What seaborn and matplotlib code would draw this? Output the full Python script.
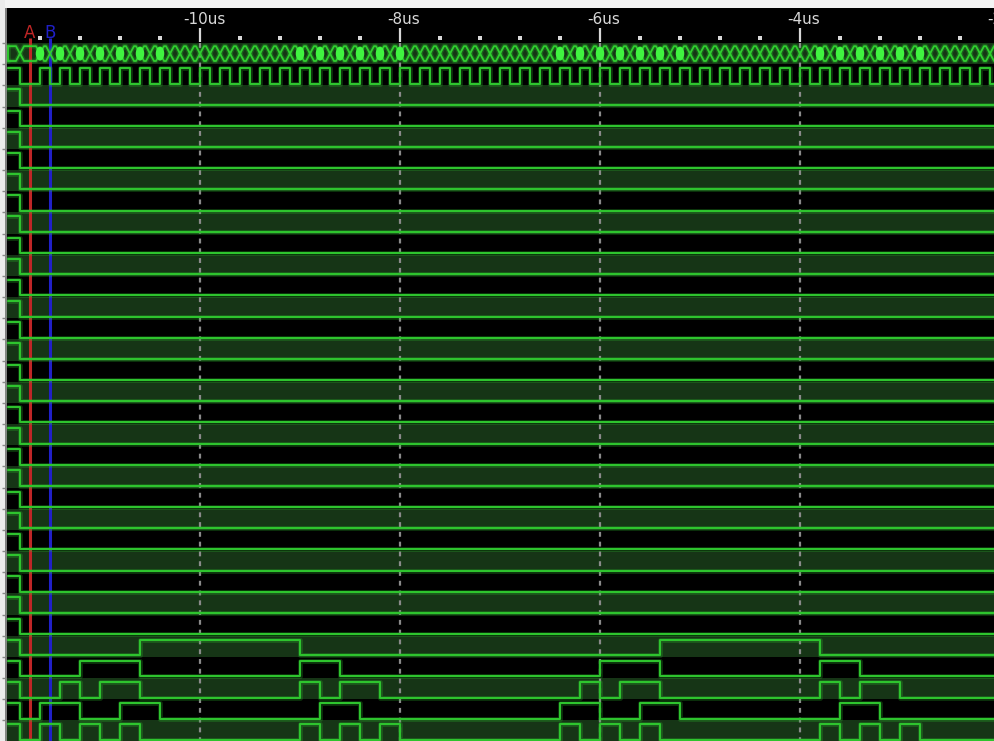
import numpy as np
import pandas as pd
import matplotlib
matplotlib.use("Agg")
import matplotlib.pyplot as plt
from matplotlib.patches import Ellipse
import seaborn as sns

# ---- capture data (times in microseconds relative to trigger) ----
TRACE_START_US = -11.92
INITIAL_FALL_US = -11.80
VIEW_START_US = -12.0
VIEW_END_US = -2.05

CLOCK_FIRST_RISE_US = -11.6
CLOCK_PERIOD_US = 0.2
CLOCK_HIGH_US = 0.1

N_IDLE_CHANNELS = 26

# high intervals (rise, fall) of the five active channels, top to bottom
CH_26 = [(-11.92, -11.80), (-10.6, -9.0), (-5.4, -3.8)]
CH_27 = [(-11.92, -11.80), (-11.2, -10.6), (-9.0, -8.6), (-6.0, -5.4), (-3.8, -3.4)]
CH_28 = [(-11.92, -11.80), (-11.4, -11.2), (-11.0, -10.6), (-9.0, -8.8), (-8.6, -8.2),
         (-6.2, -6.0), (-5.8, -5.4), (-3.8, -3.6), (-3.4, -3.0)]
CH_29 = [(-11.92, -11.80), (-11.6, -11.2), (-10.8, -10.4), (-8.8, -8.4),
         (-6.4, -6.0), (-5.6, -5.2), (-3.6, -3.2)]
CH_30 = [(-11.92, -11.80), (-11.6, -11.4), (-11.2, -11.0), (-10.8, -10.6),
         (-9.0, -8.8), (-8.6, -8.4), (-8.2, -8.0), (-6.4, -6.2), (-6.0, -5.8),
         (-5.6, -5.4), (-3.8, -3.6), (-3.4, -3.2), (-3.0, -2.8)]
ACTIVE_CHANNELS = [CH_26, CH_27, CH_28, CH_29, CH_30]

MAJOR_TICKS_US = [-10, -8, -6, -4, -2]
MAJOR_TICK_LABELS = ["-10us", "-8us", "-6us", "-4us", "-2us"]
MINOR_TICK_STEP_US = 0.4

CURSOR_A_US = -11.70
CURSOR_B_US = -11.50

# ---- styling ----
BG = "#000000"
ROW_FILL = "#163516"
TRACE = "#2ec42e"
BUS = "#2fd02f"
BUS_HOT = "#40f540"
GRID = "#8a8a8a"
HEADER_TEXT = "#d8d8d8"
CURSOR_A = "#c02626"
CURSOR_B = "#2020c8"

FIG_W, FIG_H = 995, 741
ROW_PITCH = 21.17
ROW0_TOP = 43.0
HIGH_FRAC, LOW_FRAC = 0.19, 0.92


def px_to_us(px):
    return VIEW_START_US + px / 100.0


def row_top(i):
    return ROW0_TOP + i * ROW_PITCH


def level_y(i, lvl):
    return row_top(i) + (LOW_FRAC - (LOW_FRAC - HIGH_FRAC) * lvl) * ROW_PITCH


def step_points(intervals, start, end):
    level = 1 if intervals and intervals[0][0] <= start + 1e-9 else 0
    xs, ys = [start], [level]
    for r, f in intervals:
        for edge, new in ((r, 1), (f, 0)):
            if edge <= start + 1e-9 or edge >= end:
                continue
            xs += [edge, edge]
            ys += [level, new]
            level = new
    xs.append(end)
    ys.append(level)
    return xs, ys


def draw_trace(ax, xs, ys, color, lw=1.5):
    df = pd.DataFrame({"t": xs, "y": ys})
    sns.lineplot(data=df, x="t", y="y", ax=ax, sort=False, estimator=None,
                 color=color, lw=lw + 2.0, alpha=0.25, zorder=4)
    sns.lineplot(data=df, x="t", y="y", ax=ax, sort=False, estimator=None,
                 color=color, lw=lw, zorder=5)


sns.set_theme(style="dark")
plt.rcParams["font.family"] = ["DejaVu Sans"]

fig = plt.figure(figsize=(FIG_W / 100, FIG_H / 100), dpi=100, facecolor=BG)
ax = fig.add_axes([0, 0, 1, 1])
ax.set_facecolor(BG)
ax.set_xlim(VIEW_START_US, VIEW_START_US + FIG_W / 100.0)
ax.set_ylim(FIG_H, 0)

# clock channel
clock_rises = np.arange(CLOCK_FIRST_RISE_US, VIEW_END_US, CLOCK_PERIOD_US)
clock_intervals = [(TRACE_START_US, INITIAL_FALL_US)] + [(r, r + CLOCK_HIGH_US) for r in clock_rises]

idle = [(TRACE_START_US, INITIAL_FALL_US)]
channels = [clock_intervals] + [idle] * N_IDLE_CHANNELS + ACTIVE_CHANNELS
n_rows = 1 + len(channels)

# alternating row shading
for i in range(n_rows):
    if i % 2 == 0:
        ax.axhspan(row_top(i), row_top(i + 1), color=ROW_FILL, lw=0, zorder=1)

# dashed time grid
ax.vlines(MAJOR_TICKS_US, ROW0_TOP, FIG_H, colors=GRID, lw=1.6,
          linestyles=(0, (2.2, 2.2)), zorder=3)

# cursors
for t, c, name in ((CURSOR_A_US, CURSOR_A, "A"), (CURSOR_B_US, CURSOR_B, "B")):
    ax.vlines(t, 38, FIG_H, colors=c, lw=2.2, zorder=3.5)
    ax.text(t, 32.5, name, color=c, fontsize=12, ha="center", va="center", zorder=8)

# digital channels
for k, intervals in enumerate(channels):
    xs, ts = step_points(intervals, TRACE_START_US, VIEW_END_US)
    draw_trace(ax, xs, [level_y(k + 1, v) for v in ts], TRACE)

# bus row: value changes on every clock edge
clock_edges = sorted([INITIAL_FALL_US] + [e for r, f in clock_intervals[1:] for e in (r, f)])
bus_edges = [e for e in clock_edges if TRACE_START_US < e < VIEW_END_US]
hot_edges = sorted({e for ch in ACTIVE_CHANNELS for iv in ch for e in iv
                    if e > INITIAL_FALL_US + 1e-6})
b_top = row_top(0) + 0.15 * ROW_PITCH
b_bot = row_top(0) + 0.85 * ROW_PITCH
b_mid = 0.5 * (b_top + b_bot)
d = 0.04
top_x, top_y, bot_y = [TRACE_START_US], [b_top], [b_bot]
for e in bus_edges:
    top_x += [e - d, e, e + d]
    top_y += [b_top, b_mid, b_top]
    bot_y += [b_bot, b_mid, b_bot]
top_x.append(VIEW_END_US)
top_y.append(b_top)
bot_y.append(b_bot)
draw_trace(ax, top_x, top_y, BUS, lw=1.3)
draw_trace(ax, top_x, bot_y, BUS, lw=1.3)
draw_trace(ax, [TRACE_START_US, TRACE_START_US], [b_top, b_bot], BUS, lw=1.3)
for e in hot_edges:
    if any(abs(e - b) < 1e-6 for b in bus_edges):
        ax.add_patch(Ellipse((e, b_mid), 0.085, 14.0, color=BUS_HOT, zorder=6, lw=0))

# header ruler
for t, lab in zip(MAJOR_TICKS_US, MAJOR_TICK_LABELS):
    ax.vlines(t, 28, 42, colors=HEADER_TEXT, lw=1.6, zorder=7)
    ax.text(t + 0.04, 20, lab, color=HEADER_TEXT, fontsize=11,
            ha="center", va="center", zorder=8)
minor = np.arange(VIEW_START_US + MINOR_TICK_STEP_US, VIEW_END_US, MINOR_TICK_STEP_US)
minor = [m for m in minor if min(abs(m - M) for M in MAJOR_TICKS_US) > 1e-6]
ax.scatter(minor, [37.5] * len(minor), s=5, marker="s", color=HEADER_TEXT, lw=0, zorder=7)

# window frame: top strip and left margin with row marks
ax.axhspan(0, 8, color="#f4f4f4", lw=0, zorder=9)
ax.axvspan(VIEW_START_US, px_to_us(5), color="#ececec", lw=0, zorder=9)
ax.vlines(px_to_us(5.5), 8, FIG_H, colors="#9a9a9a", lw=1.2, zorder=9)
for i in range(n_rows + 1):
    ax.hlines(row_top(i), px_to_us(2), px_to_us(5), colors="#8a8a8a", lw=1, zorder=10)

ax.set_axis_off()
fig.savefig("out.png", dpi=100, facecolor=BG)
